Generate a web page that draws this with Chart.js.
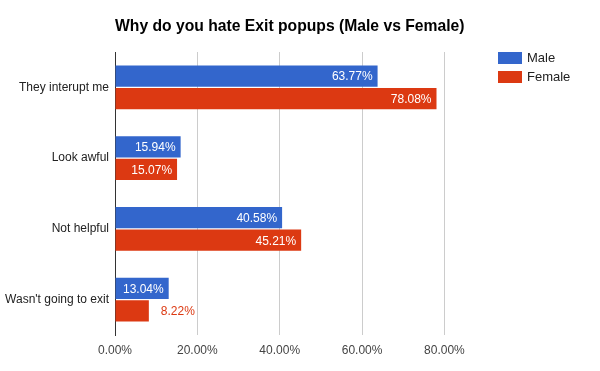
<!DOCTYPE html>
<html lang="en">
<head>
  <meta charset="UTF-8" />
  <title>Why do you hate Exit popups (Male vs Female)</title>
  <script src="https://cdn.jsdelivr.net/npm/chart.js"></script>
  <style>
    html, body { margin: 0; padding: 0; background: #fff; }
    #wrap { width: 600px; height: 371px; }
  </style>
</head>
<body>
  <div id="wrap"><canvas id="chart" width="600" height="371"></canvas></div>

  <script>
    const titleText = "Why do you hate Exit popups (Male vs Female)";
    const categories = ["They interupt me", "Look awful", "Not helpful", "Wasn't going to exit"];
    const male = [63.77, 15.94, 40.58, 13.04];
    const female = [78.08, 15.07, 45.21, 8.22];
    const seriesNames = ["Male", "Female"];
    const tickValues = [0, 20, 40, 60, 80];

    const FONT = "Arial, 'Liberation Sans', sans-serif";
    const colors = ["#3366cc", "#dc3912"];

    // title, legend and bar value labels
    const extras = {
      id: 'extras',
      afterDatasetsDraw(chart) {
        const ctx = chart.ctx;
        const area = chart.chartArea;
        ctx.save();

        ctx.fillStyle = '#000';
        ctx.font = "bold 15.7px " + FONT;
        ctx.textAlign = 'left';
        ctx.textBaseline = 'alphabetic';
        ctx.fillText(titleText, area.left, 31);

        ctx.font = "13px " + FONT;
        ctx.textBaseline = 'middle';
        seriesNames.forEach((name, i) => {
          const y = 52 + i * 19;
          ctx.fillStyle = colors[i];
          ctx.fillRect(498, y, 24, 12);
          ctx.fillStyle = '#222';
          ctx.fillText(name, 527, y + 6.5);
        });

        ctx.font = "12px " + FONT;
        chart.data.datasets.forEach((ds, di) => {
          const meta = chart.getDatasetMeta(di);
          meta.data.forEach((bar, i) => {
            const txt = ds.data[i].toFixed(2) + '%';
            const w = ctx.measureText(txt).width;
            const barW = bar.x - bar.base;
            if (barW > w + 10) {
              ctx.fillStyle = '#fff';
              ctx.textAlign = 'right';
              ctx.fillText(txt, bar.x - 5, bar.y + 1);
            } else {
              ctx.fillStyle = colors[di];
              ctx.textAlign = 'left';
              ctx.fillText(txt, bar.x + 12, bar.y + 1);
            }
          });
        });
        ctx.restore();
      }
    };

    new Chart(document.getElementById('chart'), {
      type: 'bar',
      data: {
        labels: categories,
        datasets: [
          { label: seriesNames[0], data: male, backgroundColor: colors[0] },
          { label: seriesNames[1], data: female, backgroundColor: colors[1] }
        ]
      },
      options: {
        indexAxis: 'y',
        responsive: false,
        animation: false,
        layout: { padding: { top: 52, right: 135, left: 0, bottom: 0 } },
        datasets: { bar: { categoryPercentage: 0.64, barPercentage: 0.94 } },
        plugins: { legend: { display: false }, title: { display: false }, tooltip: { enabled: false } },
        scales: {
          x: {
            min: 0,
            max: 85,
            afterBuildTicks: s => { s.ticks = tickValues.map(v => ({ value: v })); },
            afterFit: s => { s.height = 36; },
            grid: { color: '#cccccc', drawTicks: false },
            border: { display: false },
            ticks: {
              padding: 8,
              color: '#444',
              font: { family: FONT, size: 12 },
              callback: v => v.toFixed(2) + '%'
            }
          },
          y: {
            afterFit: s => { s.width = 115; },
            grid: { display: false, drawTicks: false },
            border: { display: true, color: '#333', width: 1 },
            ticks: { padding: 6, color: '#222', font: { family: FONT, size: 12 } }
          }
        }
      },
      plugins: [extras]
    });
  </script>
</body>
</html>
